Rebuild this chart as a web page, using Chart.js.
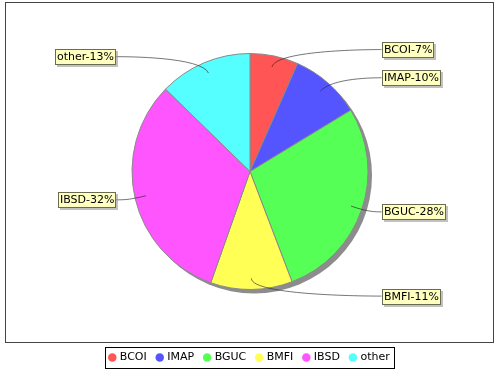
<!DOCTYPE html>
<html><head><meta charset="utf-8">
<script src="https://cdn.jsdelivr.net/npm/chart.js@4.4.1/dist/chart.umd.min.js"></script>
<style>html,body{margin:0;padding:0;background:#fff;}canvas{display:block;}</style>
</head><body>
<canvas id="c" width="500" height="370"></canvas>
<script>
// ---- data ----
const categories = ['BCOI', 'IMAP', 'BGUC', 'BMFI', 'IBSD', 'other'];
const shares = [6.6, 9.7, 27.9, 11.2, 31.9, 12.7];
const sliceColors = ['#ff5555', '#5555ff', '#55ff55', '#ffff55', '#ff55ff', '#55ffff'];

const FONT_FAMILY = '"DejaVu Sans", "Liberation Sans", sans-serif';
const LABEL_FONT = '11px ' + FONT_FAMILY;

const decor = {
  id: 'decor',
  afterLayout(chart) {
    const lg = chart.legend;
    if (lg) { lg.top += 51; lg.bottom += 51; }
  },
  beforeDraw(chart) {
    const ctx = chart.ctx;
    ctx.save();
    ctx.fillStyle = '#fff';
    ctx.fillRect(0, 0, chart.width, chart.height);
    ctx.strokeStyle = '#444';
    ctx.lineWidth = 1;
    ctx.strokeRect(5.5, 2.5, 488, 340);
    ctx.restore();
  },
  beforeDatasetsDraw(chart) {
    const arc = chart.getDatasetMeta(0).data[0];
    if (!arc) return;
    const ctx = chart.ctx;
    ctx.save();
    ctx.fillStyle = '#8c8c8c';
    ctx.beginPath();
    ctx.arc(arc.x + 4, arc.y + 4, arc.outerRadius, 0, Math.PI * 2);
    ctx.fill();
    ctx.restore();
  },
  afterDatasetsDraw(chart) {
    const meta = chart.getDatasetMeta(0);
    const vals = chart.data.datasets[0].data;
    const total = vals.reduce((a, b) => a + b, 0);
    const ctx = chart.ctx;
    ctx.save();
    ctx.font = LABEL_FONT;
    meta.data.forEach((arc, i) => {
      const {x, y, startAngle, endAngle, outerRadius: r} =
        arc.getProps(['x', 'y', 'startAngle', 'endAngle', 'outerRadius'], true);
      const mid = (startAngle + endAngle) / 2;
      const rl = r * 1.056;
      const right = Math.cos(mid) >= 0;
      const p0x = x + Math.cos(mid) * r * 0.905, p0y = y + Math.sin(mid) * r * 0.905;
      const ex = x + Math.cos(mid) * rl, ey = y + Math.sin(mid) * rl;
      const anchorX = right ? x + rl : x - rl;
      const ty = ey;
      const tx = right ? anchorX + 7 : anchorX - 10;
      ctx.strokeStyle = 'rgba(40,40,40,0.8)';
      ctx.lineWidth = 0.8;
      ctx.beginPath();
      ctx.moveTo(p0x, p0y);
      ctx.bezierCurveTo(ex, ey, anchorX, ty, tx, ty);
      ctx.stroke();

      const text = categories[i] + '-' + Math.round(vals[i] / total * 100) + '%';
      const tw = ctx.measureText(text).width;
      const bw = Math.round(tw + 3), bh = 15;
      const bx = Math.round(right ? tx : tx - bw), by = Math.round(ty - bh / 2);
      ctx.fillStyle = 'rgba(151,151,151,0.6)';
      ctx.fillRect(bx + 2, by + 2, bw + 1, bh + 1);
      ctx.fillStyle = '#ffffc0';
      ctx.fillRect(bx, by, bw, bh);
      ctx.strokeStyle = '#6b6b50';
      ctx.lineWidth = 1;
      ctx.strokeRect(bx + 0.5, by + 0.5, bw, bh);
      ctx.fillStyle = '#000';
      ctx.textBaseline = 'middle';
      ctx.textAlign = 'left';
      ctx.fillText(text, bx + 2, by + bh / 2 + 1);
    });
    ctx.restore();
  },
  afterDraw(chart) {
    const lg = chart.legend;
    const hb = lg && lg.legendHitBoxes;
    if (!hb || !hb.length) return;
    const first = hb[0], last = hb[hb.length - 1];
    const cy = first.top + first.height / 2;
    const left = Math.round(first.left - 5) + 0.5;
    const right = Math.round(last.left + last.width + 4) + 0.5;
    const top = Math.round(cy - 10.5) + 0.5, bottom = Math.round(cy + 10.5) + 0.5;
    const ctx = chart.ctx;
    ctx.save();
    ctx.strokeStyle = '#000';
    ctx.lineWidth = 1;
    ctx.strokeRect(left, top, right - left, bottom - top);
    ctx.restore();
  }
};

new Chart(document.getElementById('c'), {
  type: 'pie',
  data: {
    labels: categories,
    datasets: [{
      data: shares,
      backgroundColor: sliceColors,
      borderColor: '#8a8a8a',
      borderWidth: 1,
      hoverBorderWidth: 1,
      offset: 0,
      hoverOffset: 0
    }]
  },
  options: {
    responsive: false,
    animation: false,
    events: [],
    layout: { padding: { top: 53, bottom: 48, left: 0, right: 0 } },
    plugins: {
      tooltip: { enabled: false },
      legend: {
        position: 'bottom',
        labels: {
          usePointStyle: true,
          pointStyle: 'circle',
          boxWidth: 4,
          boxHeight: 6,
          padding: 11,
          color: '#000',
          font: { family: FONT_FAMILY, size: 11 },
          generateLabels(chart) {
            const items = Chart.overrides.pie.plugins.legend.labels.generateLabels(chart);
            items.forEach(it => { it.lineWidth = 0; it.strokeStyle = it.fillStyle; });
            return items;
          }
        }
      }
    }
  },
  plugins: [decor]
});
</script>
</body></html>
